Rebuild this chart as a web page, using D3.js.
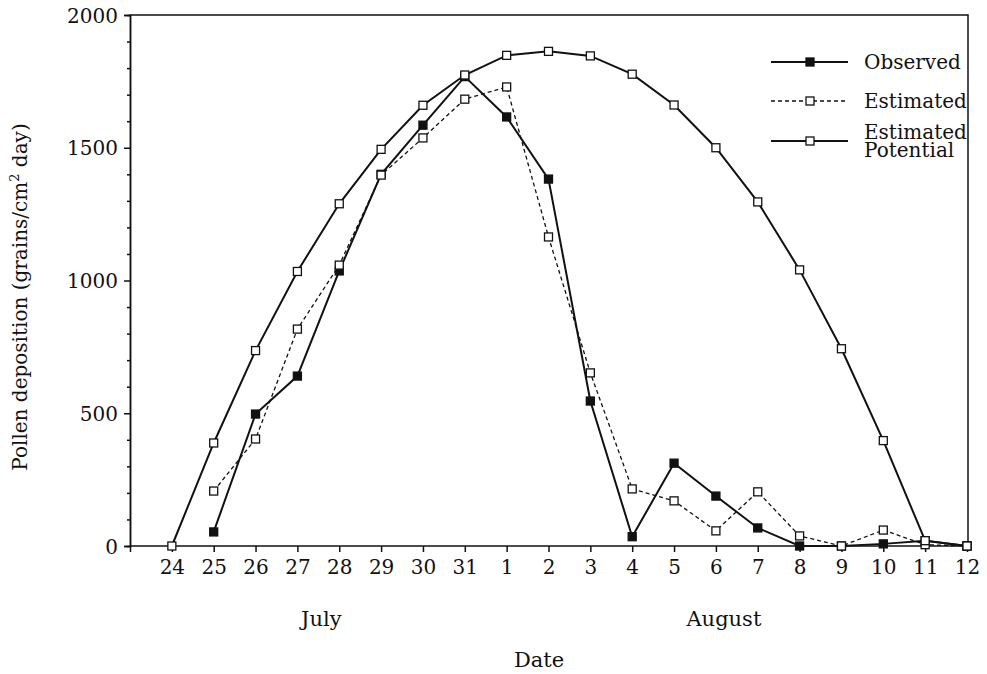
<!DOCTYPE html>
<html>
<head>
<meta charset="utf-8">
<script src="https://cdn.jsdelivr.net/npm/d3@7"></script>
<style>
body { margin: 0; background: #fff; }
text { font-family: "DejaVu Serif", serif; fill: #111; }
</style>
</head>
<body>
<div id="canvas"></div>
<script>
var _width = 987, _height = 674;

// x positions: Jul 23 .. Aug 12 (Jul 23 only carries a blank tick)
var dates = ["Jul 23", "Jul 24", "Jul 25", "Jul 26", "Jul 27", "Jul 28", "Jul 29", "Jul 30", "Jul 31",
    "Aug 1", "Aug 2", "Aug 3", "Aug 4", "Aug 5", "Aug 6", "Aug 7", "Aug 8", "Aug 9", "Aug 10", "Aug 11", "Aug 12"];
var tickLabels = ["", "24", "25", "26", "27", "28", "29", "30", "31",
    "1", "2", "3", "4", "5", "6", "7", "8", "9", "10", "11", "12"];

// potential starts Jul 24, the other two Jul 25
var potentialDates = dates.slice(1);
var potential = [0, 388, 736, 1034, 1289, 1494, 1660, 1774, 1848, 1863, 1846, 1777, 1661, 1500, 1296, 1040, 743, 397, 20, 0];
var measuredDates = dates.slice(2);
var estimated = [207, 403, 817, 1058, 1397, 1537, 1683, 1729, 1164, 652, 215, 170, 57, 204, 38, 0, 60, 5, 0];
var observed = [53, 497, 640, 1036, 1400, 1585, 1768, 1616, 1382, 546, 35, 312, 188, 68, 0, 0, 8, 20, 0];

var yTicks = d3.range(0, 2001, 100);
var months = ["July", "August"];

var _left = 130, _right = 967, _top = 15, _bottom = 546;

var svg = d3.select('#canvas').append('svg')
    .attr('width', _width)
    .attr('height', _height);

var x = d3.scalePoint().domain(dates).range([_left, _right]);
var y = d3.scaleLinear().domain([0, 2000]).range([_bottom, _top]);

// frame top + right
svg.append('path')
    .attr('d', 'M' + _left + ',' + _top + 'H' + (_right + 1) + 'V' + _bottom)
    .style('fill', 'none')
    .style('stroke', '#111')
    .style('stroke-width', '1.5');

// y axis: minor ticks every 100, labels every 500
svg.append('g').attr('transform', 'translate(' + _left + ',0)')
    .call(d3.axisLeft(y).tickValues(yTicks.filter(function (d) { return d % 500 != 0; }))
        .tickSize(3).tickFormat(''));
var yMajor = svg.append('g').attr('transform', 'translate(' + _left + ',0)')
    .call(d3.axisLeft(y).tickValues(yTicks.filter(function (d) { return d % 500 == 0; }))
        .tickSize(6).tickPadding(6).tickFormat(d3.format('d')));
yMajor.selectAll('text').style('font-size', '20px').attr('dy', '0.36em');

var xAxis = svg.append('g').attr('transform', 'translate(0,' + _bottom + ')')
    .call(d3.axisBottom(x).tickSize(6).tickPadding(8)
        .tickFormat(function (d, i) { return tickLabels[i]; }));
xAxis.selectAll('text').style('font-size', '20px');
xAxis.select('.domain').attr('d', 'M' + _left + ',0H' + (_right + 1));

svg.selectAll('.domain, .tick line').style('stroke', '#111').style('stroke-width', '1.5');

// axis titles
svg.append('text')
    .attr('transform', 'translate(27,297) rotate(-90)')
    .attr('text-anchor', 'middle')
    .style('font-size', '20px')
    .html('Pollen deposition (grains/cm<tspan dy="-8" font-size="13">2</tspan><tspan dy="8"> day)</tspan>');

svg.selectAll('.month').data(months).enter().append('text')
    .attr('class', 'month')
    .attr('x', function (d, i) { return i == 0 ? x("Jul 28") - 18 : x("Aug 6") + 8; })
    .attr('y', 626)
    .attr('text-anchor', 'middle')
    .style('font-size', '21px')
    .text(function (d) { return d; });

svg.append('text')
    .attr('x', 539)
    .attr('y', 667)
    .attr('text-anchor', 'middle')
    .style('font-size', '21px')
    .text('Date');

// series
function drawSeries(xs, ys, opts) {
    var pts = xs.map(function (d, i) { return [x(d), y(ys[i])]; });
    var line = d3.line();
    svg.append('path')
        .attr('d', line(pts))
        .style('fill', 'none')
        .style('stroke', '#111')
        .style('stroke-width', opts.width)
        .style('stroke-dasharray', opts.dash);
    svg.append('g').selectAll('rect').data(pts).enter().append('rect')
        .attr('x', function (d) { return d[0] - 4; })
        .attr('y', function (d) { return d[1] - 4; })
        .attr('width', 8)
        .attr('height', 8)
        .style('fill', opts.fill)
        .style('stroke', '#111')
        .style('stroke-width', '1.3');
}

drawSeries(measuredDates, observed, {width: 2, dash: null, fill: '#111'});
drawSeries(measuredDates, estimated, {width: 1.3, dash: '4,3', fill: '#fff'});
drawSeries(potentialDates, potential, {width: 2, dash: null, fill: '#fff'});

// legend
var legend = [
    {label: ['Observed'], dash: null, width: 2, fill: '#111', y: 62},
    {label: ['Estimated'], dash: '4,3', width: 1.3, fill: '#fff', y: 101},
    {label: ['Estimated', 'Potential'], dash: null, width: 2, fill: '#fff', y: 141}
];
var lg = svg.append('g').selectAll('g').data(legend).enter().append('g')
    .attr('transform', function (d) { return 'translate(0,' + d.y + ')'; });
lg.append('line')
    .attr('x1', 771).attr('x2', 848)
    .style('stroke', '#111')
    .style('stroke-width', function (d) { return d.width; })
    .style('stroke-dasharray', function (d) { return d.dash; });
lg.append('rect')
    .attr('x', 806).attr('y', -4).attr('width', 8).attr('height', 8)
    .style('fill', function (d) { return d.fill; })
    .style('stroke', '#111')
    .style('stroke-width', '1.3');
lg.each(function (d) {
    var t = d3.select(this).append('text')
        .attr('x', 864)
        .style('font-size', '20px');
    if (d.label.length == 1) {
        t.attr('y', 7).text(d.label[0]);
    } else {
        t.selectAll('tspan').data(d.label).enter().append('tspan')
            .attr('x', 864)
            .attr('y', function (s, i) { return -2 + i * 18; })
            .text(function (s) { return s; });
    }
});
</script>
</body>
</html>
